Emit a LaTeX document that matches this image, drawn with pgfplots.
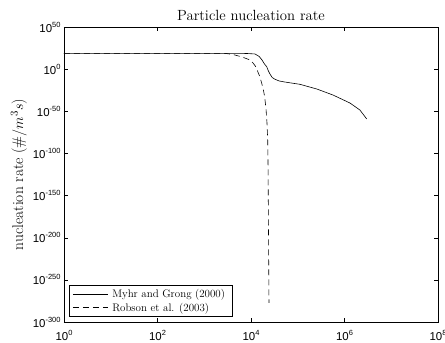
\documentclass[border=0pt]{standalone}
\usepackage{pgfplots}
\pgfplotsset{compat=1.18}
\usepackage{fontspec}
\usetikzlibrary{calc}
\newfontfamily\ticksf{Liberation Sans}
% tick label: base 10 with a small raised exponent
\newcommand{\tl}[1]{{\ticksf\fontsize{11.5}{13}\selectfont 10\raisebox{5bp}{\fontsize{7.5}{8}\selectfont #1}}}

\begin{document}
\begin{tikzpicture}
\begin{axis}[
  name=ax,
  scale only axis,
  width=374bp, height=295bp,
  xmode=log, ymode=log,
  xmin=1, xmax=1e8,
  ymin=1e-300, ymax=1e50,
  xtick={1,1e2,1e4,1e6,1e8},
  xticklabels={\tl{0},\tl{2},\tl{4},\tl{6},\tl{8}},
  xticklabel style={yshift=-5bp},
  ytick={1e-300,1e-250,1e-200,1e-150,1e-100,1e-50,1,1e50},
  yticklabels={\tl{-300},\tl{-250},\tl{-200},\tl{-150},\tl{-100},\tl{-50},\tl{0},\tl{50}},
  minor xtick={}, minor ytick={},
  tick align=inside,
  xtick pos=both, ytick pos=both,
  major tick length=4bp,
  tick style={black, line width=0.4pt},
  axis line style={line width=0.6pt},
  title={Particle nucleation rate},
  title style={font=\fontsize{14.8}{17}\selectfont, yshift=-3bp},
  ylabel={nucleation rate ($\#/m^3s$)},
  ylabel style={font=\fontsize{15.5}{17}\selectfont, yshift=-1bp},
  legend style={at={(0.013,0.019)}, anchor=south west,
    font=\fontsize{11}{12}\selectfont, draw=black, line width=0.6pt,
    inner xsep=3.5bp, inner ysep=1.5bp, row sep=0bp,
    nodes={inner xsep=4bp}},
  legend image code/.code={\draw[#1] (0bp,0bp) -- (35bp,0bp);},
  legend cell align=left,
]
\addplot[black, line width=0.6pt] coordinates {
  (1,6e18) (100,6e18) (2000,6e18) (4121,5.5e18) (8000,4e18) (12162,1e18)
  (15000,1e15) (17179,8e10) (19500,1e6) (21677,8e2) (23500,1e-2)
  (25468,1.5e-6) (28500,1e-10) (32584,1e-12) (40000,1e-14)
  (53333,5e-16) (111686,1e-18) (257040,2.5e-24) (567544,2e-31)
  (1312200,6e-41) (2137962,3e-49) (2985383,8e-60)
};
\addlegendentry{Myhr and Grong (2000)}
\addplot[black, line width=0.6pt, dash pattern=on 6bp off 4bp] coordinates {
  (1,6e18) (100,6e18) (2754,6e18) (4121,2.5e17) (6457,2.5e14)
  (9550,8e10) (11200,1e7) (12794,3e2) (14200,1e-4) (15488,1e-9)
  (17000,1e-17) (18030,4e-23) (19200,1e-30) (19953,2.5e-37) (21000,1e-48)
  (21979,1.2e-64) (22800,1e-85) (23121,1.6e-108) (23659,1.6e-191)
  (24266,4e-278)
};
\addlegendentry{Robson et al. (2003)}
\end{axis}
\pgfresetboundingbox
\useasboundingbox ($(ax.south west)+(-64bp,-21bp)$) rectangle ($(ax.north east)+(7bp,27bp)$);
\end{tikzpicture}
\end{document}
